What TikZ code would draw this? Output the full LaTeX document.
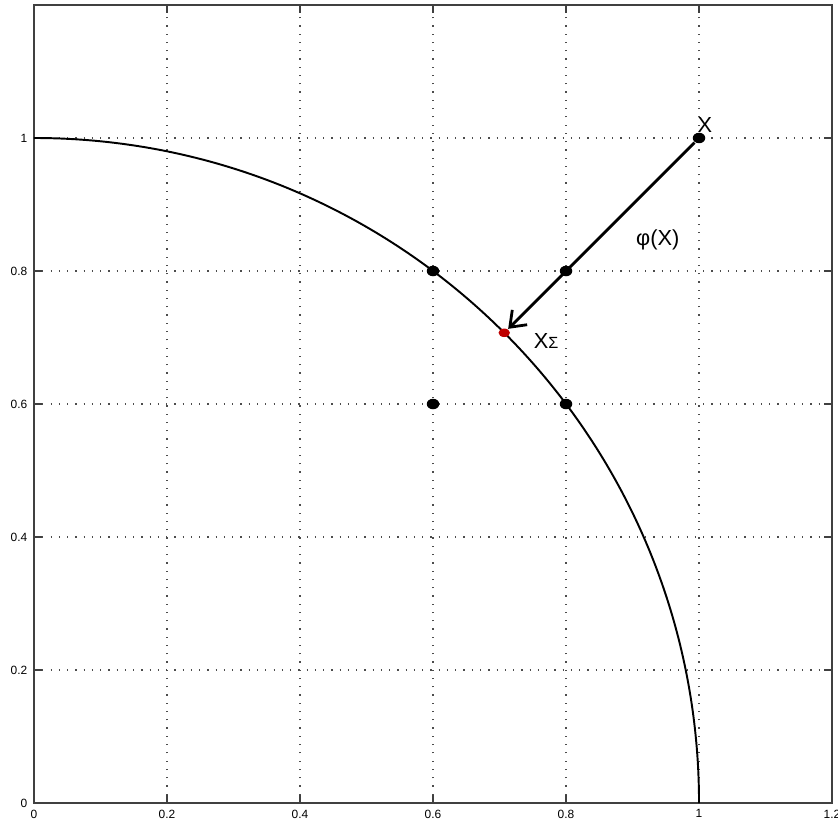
\documentclass[tikz,border=0pt]{standalone}
\usepackage{fontspec}
\setmainfont{Liberation Sans}
\usetikzlibrary{arrows.meta, shapes.geometric}

\begin{document}
\begin{tikzpicture}[
    x=6.65cm, y=6.65cm,
    >={Straight Barb[length=1.4mm, width=2.1mm]},
    gridline/.style={draw=black!70, line width=0.35pt, dotted},
    ticklabel/.style={font=\fontsize{3.4}{3.8}\selectfont, inner sep=0pt},
    dotnode/.style={fill=black, ellipse, minimum width=1.25mm, minimum height=1.05mm, inner sep=0pt},
    reddot/.style={dotnode, fill=red!75!black, minimum width=1.15mm, minimum height=0.85mm},
    marklabel/.style={font=\fontsize{6.2}{7}\selectfont, inner sep=0pt}
]
\useasboundingbox (-0.0511,-0.0271) rectangle (1.2090,1.2075);

% Grid
\foreach \v in {0.2,0.4,0.6,0.8,1.0} {
    \draw[gridline] (\v,0) -- (\v,1.2);
    \draw[gridline] (0,\v) -- (1.2,\v);
}

% Axes box and ticks
\draw[black!75, line width=0.4pt] (0,0) rectangle (1.2,1.2);
\foreach \v in {0,0.2,0.4,0.6,0.8,1.0,1.2} {
    \draw[black!75, line width=0.4pt] (\v,0) -- ++(0,0.012);
    \draw[black!75, line width=0.4pt] (\v,1.2) -- ++(0,-0.012);
    \draw[black!75, line width=0.4pt] (0,\v) -- ++(0.012,0);
    \draw[black!75, line width=0.4pt] (1.2,\v) -- ++(-0.012,0);
}
\foreach \v/\t in {0/0,0.2/0.2,0.4/0.4,0.6/0.6,0.8/0.8,1/1,1.2/1.2}
    \node[ticklabel, anchor=north] (xt\t) at (\v,-0.009) {\t};
\foreach \v/\t in {0/0,0.2/0.2,0.4/0.4,0.6/0.6,0.8/0.8,1/1}
    \node[ticklabel, anchor=east] (yt\t) at (-0.009,\v) {\t};

% Unit circle
\draw[line width=0.55pt] (0,1) arc[start angle=90, end angle=0, radius=1];

% Points
\node[dotnode] (p66) at (0.6,0.6) {};
\node[dotnode] (p68) at (0.6,0.8) {};
\node[dotnode] (p86) at (0.8,0.6) {};
\node[dotnode] (p88) at (0.8,0.8) {};
\node[dotnode] (x) at (1,1) {};
\node[reddot] (xs) at ({cos(45)},{sin(45)}) {};

% Projection
\draw[->, line width=0.8pt] (x) -- (xs);

% Labels
\node[marklabel] (xlabel) at (1.009,1.019) {X};
\node[marklabel] (philabel) at (0.938,0.847) {φ(X)};
\node[marklabel] (xslabel) at (0.770,0.694) {X{\fontsize{4.6}{5}\selectfont Σ}};

\end{tikzpicture}
\end{document}
